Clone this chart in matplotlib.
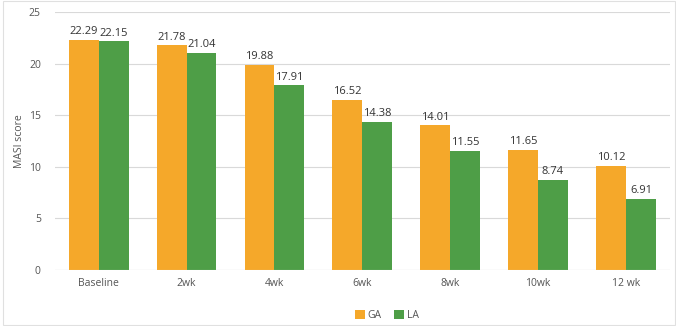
import matplotlib
matplotlib.use("Agg")
import matplotlib.pyplot as plt
import numpy as np
from matplotlib.patches import Rectangle

categories = ["Baseline", "2wk", "4wk", "6wk", "8wk", "10wk", "12 wk"]
ga = [22.29, 21.78, 19.88, 16.52, 14.01, 11.65, 10.12]
la = [22.15, 21.04, 17.91, 14.38, 11.55, 8.74, 6.91]
yticks = [0, 5, 10, 15, 20, 25]

plt.rcParams['font.family'] = ['Open Sans', 'DejaVu Sans']

fig = plt.figure(figsize=(6.76, 3.26), dpi=100)
ax = fig.add_axes([0.081, 0.172, 0.91, 0.791])

x = np.arange(len(categories))
w = 0.34
c_ga = "#F5A82A"
c_la = "#4E9E47"
b1 = ax.bar(x - w/2, ga, w, color=c_ga, label="GA", zorder=3)
b2 = ax.bar(x + w/2, la, w, color=c_la, label="LA", zorder=3)
for bars, vals in ((b1, ga), (b2, la)):
    for r, v in zip(bars, vals):
        ax.text(r.get_x() + r.get_width()/2, v + 0.25, f"{v:.2f}", ha="center", va="bottom",
                fontsize=8, color="#333333")

ax.set_xlim(-0.5, len(categories) - 0.5)
ax.set_ylim(0, 25)
ax.set_yticks(yticks)
ax.set_xticks(x)
ax.set_xticklabels(categories)
ax.tick_params(axis="both", length=0, labelsize=7.5, labelcolor="#555555")
ax.tick_params(axis="x", pad=6)
ax.tick_params(axis="y", pad=10)
ax.grid(axis="y", color="#D9D9D9", linewidth=0.8, zorder=0)
for s in ax.spines.values():
    s.set_visible(False)
ax.axhline(0, color="#D9D9D9", linewidth=0.8, zorder=4)
ax.set_ylabel("MASI score", fontsize=7.5, color="#555555", labelpad=3)

ax.legend(loc="lower center", bbox_to_anchor=(0.54, -0.235), ncol=2, frameon=False,
          fontsize=7.5, handlelength=0.9, handleheight=0.9, columnspacing=1.2,
          handletextpad=0.3, labelcolor="#555555")

fig.patches.append(Rectangle((0.004, 0.003), 0.994, 0.994, transform=fig.transFigure,
                             fill=False, edgecolor="#E0E0E0", linewidth=0.8))

fig.savefig("out.png", dpi=100)
